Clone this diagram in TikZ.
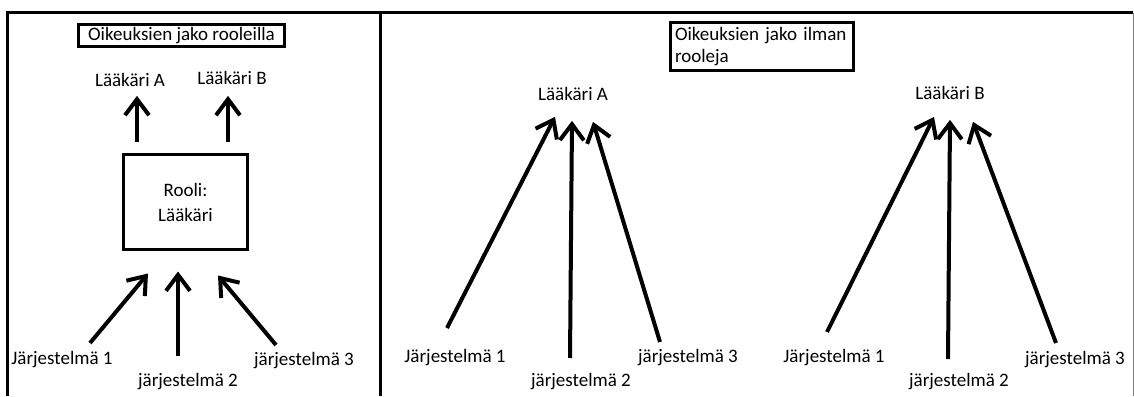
\documentclass[tikz,border=0pt]{standalone}
\usepackage{fontspec}
\setmainfont{Carlito}
\usetikzlibrary{arrows.meta}

\tikzset{
  txt/.style={inner sep=0pt},
  boxed/.style={draw, line width=3pt, inner sep=0pt},
  arr/.style={line width=4pt, -{Straight Barb[length=16pt,width=24pt]}},
}

\begin{document}
\begin{tikzpicture}[x=1pt,y=-1pt,font=\fontsize{19}{25}\selectfont]
\useasboundingbox (0,0) rectangle (1134,396);
% frame and divider
\draw [line width=3pt] (7,396) -- (7,13) -- (1133,13);
\draw [line width=3pt] (380,13) -- (380,396);
\draw [gray, line width=1pt] (1133,13) -- (1133,396);

% left: rights through a role
\node [boxed, minimum width=206, minimum height=22] (title1) at (181.5,35.5) {Oikeuksien jako rooleilla};
\node [txt] (docA) at (130,80) {Lääkäri A};
\node [txt] (docB) at (232,78) {Lääkäri B};
\node [boxed, minimum width=124, minimum height=95, align=center] (role) at (185.5,202) {Rooli:\\Lääkäri};
\node [txt] (sys1) at (62,360) {Järjestelmä 1};
\node [txt] (sys2) at (188,382) {järjestelmä 2};
\node [txt] (sys3) at (304,361) {järjestelmä 3};
\draw [arr] ([shift={(-48.5,-11.5)}]role.north) -- ([shift={(7,9)}]docA.south);
\draw [arr] ([shift={(42.5,-11.5)}]role.north) -- ([shift={(-4,11)}]docB.south);
\draw [arr] ([shift={(28,-17)}]sys1.center) -- ([shift={(-37.5,22.5)}]role.south);
\draw [arr] ([shift={(-10,-26)}]sys2.center) -- ([shift={(-7.5,20.5)}]role.south);
\draw [arr] ([shift={(-28,-16)}]sys3.center) -- ([shift={(32.5,24.5)}]role.south);

% right: rights without roles
\node [boxed, anchor=north west, text width=173, align=left, inner xsep=5pt, inner ysep=3pt,
       minimum width=183, minimum height=47, font=\fontsize{19}{22}\selectfont] (title2) at (668.5,21.5)
       {Oikeuksien jako ilman\\rooleja};

\node [txt] (docA2) at (573,94) {Lääkäri A};
\node [txt] (sysA1) at (455,358) {Järjestelmä 1};
\node [txt] (sysA2) at (581,382) {järjestelmä 2};
\node [txt] (sysA3) at (688,358) {järjestelmä 3};
\draw [arr] ([shift={(-8,-30)}]sysA1.center) -- ([shift={(-18,16)}]docA2.south);
\draw [arr] ([shift={(-11,-24)}]sysA2.center) -- ([shift={(-1,20)}]docA2.south);
\draw [arr] ([shift={(-28,-16)}]sysA3.center) -- ([shift={(20,21)}]docA2.south);

\node [txt] (docB2) at (950,93) {Lääkäri B};
\node [txt] (sysB1) at (834,358) {Järjestelmä 1};
\node [txt] (sysB2) at (959,382) {järjestelmä 2};
\node [txt] (sysB3) at (1075,360) {järjestelmä 3};
\draw [arr] ([shift={(-7,-26)}]sysB1.center) -- ([shift={(-16,17)}]docB2.south);
\draw [arr] ([shift={(-11,-23)}]sysB2.center) -- ([shift={(0,20)}]docB2.south);
\draw [arr] ([shift={(-19,-17)}]sysB3.center) -- ([shift={(23,22)}]docB2.south);
\end{tikzpicture}
\end{document}
